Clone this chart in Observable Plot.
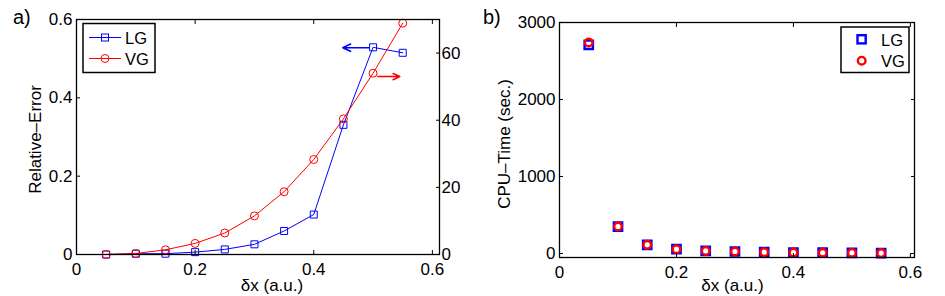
<!DOCTYPE html>
<html><head><meta charset="utf-8">
<script src="https://cdn.jsdelivr.net/npm/d3@7"></script>
<script src="https://cdn.jsdelivr.net/npm/@observablehq/plot@0.6"></script>
<style>
body{margin:0;background:#fff;}
#wrap{position:relative;width:945px;height:296px;font-family:"Liberation Sans",Arial,sans-serif;color:#000;}
#wrap > div{position:absolute;top:0;}
#overlay{position:absolute;left:0;top:0;pointer-events:none;}
</style></head><body>
<div id="wrap">
  <div id="pa" style="left:0"></div>
  <div id="pb" style="left:472px"></div>
  <svg id="overlay" width="945" height="296" font-family="Liberation Sans, Arial, sans-serif" font-size="16.5">
    <text x="13" y="24" font-size="20">a)</text>
    <text x="483" y="24" font-size="20">b)</text>
    <!-- legend a -->
    <rect x="83" y="23.5" width="72" height="49" fill="#fff" stroke="#000" stroke-width="1.5"/>
    <line x1="89" x2="121" y1="37.5" y2="37.5" stroke="#0000ff" stroke-width="1"/>
    <rect x="101.5" y="34" width="7" height="7" fill="none" stroke="#0000ff" stroke-width="1"/>
    <text x="125" y="43.5">LG</text>
    <line x1="89" x2="121" y1="58.5" y2="58.5" stroke="#ff0000" stroke-width="1"/>
    <circle cx="105" cy="58.5" r="4" fill="none" stroke="#ff0000" stroke-width="1"/>
    <text x="125" y="64.5">VG</text>
    <!-- legend b -->
    <rect x="841" y="27" width="68" height="45.5" fill="#fff" stroke="#000" stroke-width="1.5"/>
    <rect x="857.5" y="35.2" width="8.2" height="8.2" fill="none" stroke="#0000ff" stroke-width="2.4"/>
    <text x="881" y="45.5">LG</text>
    <circle cx="861.7" cy="60.7" r="3.8" fill="none" stroke="#ff0000" stroke-width="2.4"/>
    <text x="881" y="66.5">VG</text>
  </svg>
</div>
<script>
// ---- data ----
const dxValues = [0.05, 0.10, 0.15, 0.20, 0.25, 0.30, 0.35, 0.40, 0.45, 0.50, 0.55];
const relErrLG = [0.000, 0.002, 0.002, 0.006, 0.013, 0.026, 0.060, 0.102, 0.331, 0.529, 0.515];
const relErrVG = [0.0, 0.3, 1.4, 3.3, 6.4, 11.5, 18.7, 28.3, 40.4, 54.0, 68.9]; // right axis
const cpuLG = [2710, 349, 112, 56, 34, 26, 17, 13, 10, 8, 6];
const cpuVG = [2740, 350, 112, 56, 34, 26, 17, 13, 10, 8, 6];
const xTicks = [0, 0.2, 0.4, 0.6];
const yTicksA = [0, 0.2, 0.4, 0.6];
const yTicksARight = [0, 20, 40, 60];
const yTicksB = [0, 1000, 2000, 3000];
const arrowLG = [{x1: 0.493, x2: 0.449, y: 0.528}];
const arrowVG = [{x1: 0.508, x2: 0.545, y: 53}]; // right-axis units

const k = 0.6 / 70; // right axis (0..70) onto left axis (0..0.6)
const fmtX = d => d === 0 ? "0" : d.toFixed(1);
const style = {fontFamily: "Liberation Sans, Arial, sans-serif", fontSize: "17px", color: "#000", background: "transparent", overflow: "visible"};

const rowsA = dxValues.map((x, i) => ({x, lg: relErrLG[i], vg: relErrVG[i] * k}));
const rowsB = dxValues.map((x, i) => ({x, lg: cpuLG[i], vg: cpuVG[i]}));

const plotA = Plot.plot({
  width: 472, height: 296,
  marginLeft: 76, marginRight: 33, marginTop: 19, marginBottom: 42,
  style,
  x: {domain: [0, 0.612]},
  y: {domain: [0, 0.6]},
  marks: [
    Plot.line(rowsA, {x: "x", y: "lg", stroke: "#0000ff", strokeWidth: 1}),
    Plot.dot(rowsA, {x: "x", y: "lg", symbol: "square", r: 3.95, stroke: "#0000ff", fill: "none", strokeWidth: 1}),
    Plot.line(rowsA, {x: "x", y: "vg", stroke: "#ff0000", strokeWidth: 1}),
    Plot.dot(rowsA, {x: "x", y: "vg", symbol: "circle", r: 4, stroke: "#ff0000", fill: "none", strokeWidth: 1}),
    Plot.arrow(arrowLG, {x1: "x1", x2: "x2", y1: "y", y2: "y", stroke: "#0000ff", strokeWidth: 1.6, headLength: 8, headAngle: 50}),
    Plot.arrow(arrowVG, {x1: "x1", x2: "x2", y1: d => d.y * k, y2: d => d.y * k, stroke: "#ff0000", strokeWidth: 1.6, headLength: 8, headAngle: 50}),
    Plot.axisX({anchor: "bottom", ticks: xTicks, tickFormat: fmtX, tickSize: -4, tickPadding: 12, label: null}),
    Plot.axisX({anchor: "top", ticks: xTicks, tickFormat: () => "", tickSize: -4, label: null}),
    Plot.axisY({anchor: "left", ticks: yTicksA, tickFormat: fmtX, tickSize: -4, tickPadding: 8, label: null}),
    Plot.axisY({anchor: "right", ticks: yTicksARight.map(v => v * k), tickFormat: d => String(Math.round(d / k)), tickSize: -4, tickPadding: 6, label: null}),
    Plot.frame({stroke: "#000", strokeWidth: 1.3}),
    Plot.text(["Relative–Error"], {frameAnchor: "left", textAnchor: "middle", lineAnchor: "middle", dx: -41, dy: 2.5, rotate: -90, fontSize: 17}),
    Plot.text(["δx (a.u.)"], {frameAnchor: "bottom", textAnchor: "middle", lineAnchor: "middle", dx: 14, dy: 31, fontSize: 17})
  ]
});
document.getElementById("pa").append(plotA);

const plotB = Plot.plot({
  width: 473, height: 296,
  marginLeft: 87, marginRight: 31, marginTop: 22, marginBottom: 39,
  style,
  x: {domain: [0, 0.607]},
  y: {domain: [-52, 3000]},
  marks: [
    Plot.dot(rowsB, {x: "x", y: "lg", symbol: "square", r: 4.7, stroke: "#0000ff", fill: "none", strokeWidth: 2.4}),
    Plot.dot(rowsB, {x: "x", y: "vg", symbol: "circle", r: 3.8, stroke: "#ff0000", fill: "none", strokeWidth: 2.4}),
    Plot.axisX({anchor: "bottom", ticks: xTicks, tickFormat: fmtX, tickSize: -4, tickPadding: 12, label: null}),
    Plot.axisX({anchor: "top", ticks: xTicks, tickFormat: () => "", tickSize: -4, label: null}),
    Plot.axisY({anchor: "left", ticks: yTicksB, tickFormat: d => String(d), tickSize: -4, tickPadding: 8, label: null}),
    Plot.axisY({anchor: "right", ticks: yTicksB, tickFormat: () => "", tickSize: -4, label: null}),
    Plot.frame({stroke: "#000", strokeWidth: 1.3}),
    Plot.text(["CPU–Time (sec.)"], {frameAnchor: "left", textAnchor: "middle", lineAnchor: "middle", dx: -55, dy: 4, rotate: -90, fontSize: 17}),
    Plot.text(["δx (a.u.)"], {frameAnchor: "bottom", textAnchor: "middle", lineAnchor: "middle", dx: -4.5, dy: 28.5, fontSize: 17})
  ]
});
document.getElementById("pb").append(plotB);
</script>
</body></html>
